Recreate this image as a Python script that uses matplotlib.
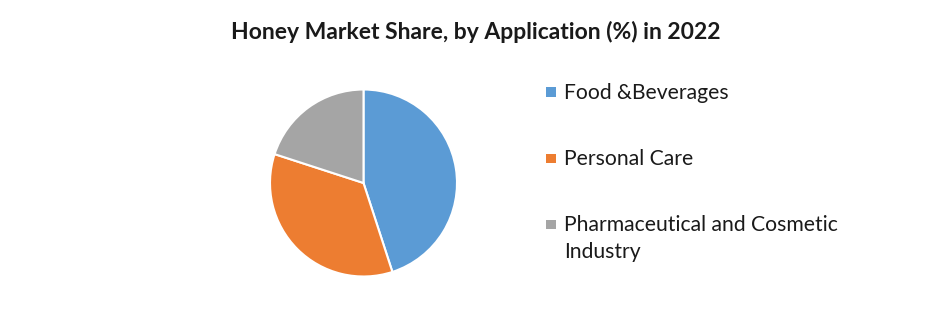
import matplotlib
matplotlib.use("Agg")
import matplotlib.pyplot as plt
from matplotlib.patches import Rectangle

categories = ["Food &Beverages", "Personal Care", "Pharmaceutical and Cosmetic\nIndustry"]
shares = [45, 35, 20]
colors = ["#5B9BD5", "#ED7D31", "#A5A5A5"]
title = "Honey Market Share, by Application (%) in 2022"

plt.rcParams['font.family'] = ['Lato', 'DejaVu Sans']

W, H = 941, 313
fig = plt.figure(figsize=(W / 100, H / 100), dpi=100)

cx, cy, r = 363.5, 183, 93.5
ax = fig.add_axes([(cx - r) / W, 1 - (cy + r) / H, 2 * r / W, 2 * r / H])
wedges, _ = ax.pie(shares, colors=colors, startangle=90, counterclock=False,
                   radius=1, wedgeprops=dict(edgecolor="white", linewidth=1.5))
ax.set_xlim(-1, 1)
ax.set_ylim(-1, 1)
ax.set_aspect("equal")
ax.axis("off")

fig.text(476 / W, 1 - 39 / H, title, ha="center", va="baseline",
         fontsize=16.5, fontweight="bold", color="#1a1a1a")

# legend drawn manually (marker + text lines)
row_baselines = [99, 165, 231]
line_step = 27.5
for label, col, base in zip(categories, colors, row_baselines):
    fig.patches.append(Rectangle((546 / W, 1 - (base - 2) / H), 10 / W, 9.5 / H,
                                 transform=fig.transFigure, facecolor=col,
                                 edgecolor="none"))
    for i, line in enumerate(label.split("\n")):
        fig.text(564 / W, 1 - (base + i * line_step) / H, line, ha="left",
                 va="baseline", fontsize=15.2, color="#1a1a1a")

fig.savefig("out.png", dpi=100, facecolor="white")
